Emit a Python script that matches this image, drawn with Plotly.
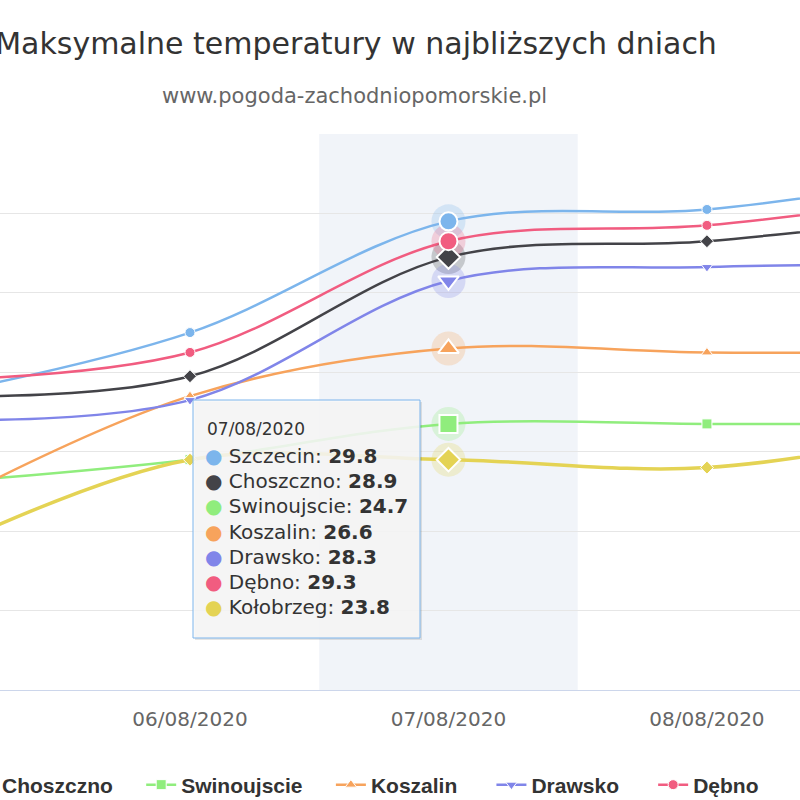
import plotly.graph_objects as go

# dane (5 dni, skrajne poza kadrem)
days = [0, 1, 2, 3, 4]
day_labels = ["05/08/2020", "06/08/2020", "07/08/2020", "08/08/2020", "09/08/2020"]

szczecin = [25.4, 27.0, 29.8, 30.1, 31.0]
choszczno = [25.4, 25.9, 28.9, 29.3, 30.0]
swinoujscie = [23.2, 23.8, 24.7, 24.7, 24.7]
koszalin = [22.5, 25.4, 26.6, 26.5, 26.5]
drawsko = [24.8, 25.3, 28.3, 28.65, 28.7]
debno = [25.8, 26.5, 29.3, 29.7, 30.5]
kolobrzeg = [21.4, 23.8, 23.8, 23.6, 24.6]

series = [
    ("Szczecin", szczecin, "#7cb5ec", "circle"),
    ("Choszczno", choszczno, "#434348", "diamond"),
    ("Swinoujscie", swinoujscie, "#90ed7d", "square"),
    ("Koszalin", koszalin, "#f7a35c", "triangle-up"),
    ("Drawsko", drawsko, "#8085e9", "triangle-down"),
    ("Dębno", debno, "#f15c80", "circle"),
    ("Kołobrzeg", kolobrzeg, "#e4d354", "diamond"),
]
# serie widoczne w legendzie (Szczecin i Kołobrzeg są poza kadrem) + odstęp po nazwie
legend_pad = {"Choszczno": 4, "Swinoujscie": 4, "Koszalin": 5, "Drawsko": 5, "Dębno": 0}
hover_idx = 2  # 07/08/2020 - najechany punkt

W, H = 800, 800
TOP, BOTTOM = 134, 690


def px(x):
    return x / W


def py(y):
    return (BOTTOM - y) / (BOTTOM - TOP)


fig = go.Figure()

for name, vals, color, symbol in series:
    width = 3.5 if name == "Kołobrzeg" else 2.5
    fig.add_trace(
        go.Scatter(
            x=days,
            y=vals,
            mode="lines+markers",
            name=name + "\u00a0" * legend_pad.get(name, 0),
            showlegend=name in legend_pad,
            line=dict(color=color, width=width, shape="spline", smoothing=1.0),
            marker=dict(symbol=symbol, size=10, color=color, line=dict(color="white", width=1)),
        )
    )

# stan "hover" dla 07/08: halo + powiększone znaczniki
for name, vals, color, symbol in series:
    fig.add_trace(
        go.Scatter(
            x=[days[hover_idx]],
            y=[vals[hover_idx]],
            mode="markers",
            marker=dict(symbol="circle", size=34, color=color, opacity=0.25),
            showlegend=False,
            hoverinfo="skip",
        )
    )
for name, vals, color, symbol in series:
    fig.add_trace(
        go.Scatter(
            x=[days[hover_idx]],
            y=[vals[hover_idx]],
            mode="markers",
            marker=dict(symbol=symbol, size=18, color=color, line=dict(color="white", width=2)),
            showlegend=False,
            hoverinfo="skip",
        )
    )

# pasmo wyróżnionego dnia
fig.add_shape(
    type="rect", xref="x", yref="paper",
    x0=hover_idx - 0.5, x1=hover_idx + 0.5, y0=0, y1=1,
    fillcolor="#f1f4f9", line_width=0, layer="below",
)

# tooltip
fig.add_shape(
    type="rect", xref="paper", yref="paper",
    x0=px(195), x1=px(422), y0=py(402), y1=py(640),
    fillcolor="rgba(0,0,0,0.10)", line_width=0, layer="above",
)
fig.add_shape(
    type="rect", xref="paper", yref="paper",
    x0=px(193), x1=px(420), y0=py(400), y1=py(638),
    fillcolor="rgba(247,247,247,0.88)", line=dict(color="#7cb5ec", width=1), layer="above",
)
fig.add_annotation(
    x=px(205), y=py(429), xref="paper", yref="paper", xanchor="left", yanchor="middle",
    text=day_labels[hover_idx], showarrow=False,
    font=dict(family="DejaVu Sans", size=17, color="#333333"),
)
for i, (name, vals, color, symbol) in enumerate(series):
    fig.add_annotation(
        x=px(203), y=py(456 + i * 25.2), xref="paper", yref="paper",
        xanchor="left", yanchor="middle", showarrow=False,
        text=f'<span style="color:{color}">●</span> {name}: <b>{vals[hover_idx]}</b>',
        font=dict(family="DejaVu Sans", size=20, color="#333333"),
    )

# podtytuł
fig.add_annotation(
    x=px(354), y=py(96), xref="paper", yref="paper", xanchor="center", yanchor="middle",
    text="www.pogoda-zachodniopomorskie.pl", showarrow=False,
    font=dict(family="DejaVu Sans", size=21, color="#666666"),
)

fig.update_layout(
    width=W,
    height=H,
    paper_bgcolor="white",
    plot_bgcolor="white",
    margin=dict(l=0, r=0, t=TOP, b=H - BOTTOM, autoexpand=False),
    title=dict(
        text="Maksymalne temperatury w najbliższych dniach",
        x=px(356), xanchor="center", xref="paper",
        y=1 - 43 / H, yanchor="middle",
        font=dict(family="DejaVu Sans", size=30, color="#333333"),
    ),
    xaxis=dict(
        range=[0.265, 3.36],
        tickvals=days,
        ticktext=day_labels,
        showgrid=False,
        zeroline=False,
        showline=True,
        linecolor="#ccd6eb",
        linewidth=1,
        ticks="outside",
        ticklen=11,
        tickcolor="rgba(0,0,0,0)",
        tickfont=dict(family="DejaVu Sans", size=20, color="#666666"),
    ),
    yaxis=dict(
        range=[18, 32],
        dtick=2,
        showgrid=True,
        gridcolor="#e6e6e6",
        gridwidth=1,
        zeroline=False,
        showticklabels=False,
        showline=False,
    ),
    showlegend=True,
    legend=dict(
        orientation="h",
        x=px(-38), xanchor="left",
        y=py(785), yanchor="middle",
        font=dict(family="Liberation Sans", size=21, color="#333333", weight="bold"),
        bgcolor="rgba(0,0,0,0)",
        traceorder="normal",
    ),
    hovermode=False,
)

fig.write_html(
    "out.html",
    config={"displayModeBar": False},
    post_script="document.body.style.margin='0';document.body.style.overflow='hidden';",
)
